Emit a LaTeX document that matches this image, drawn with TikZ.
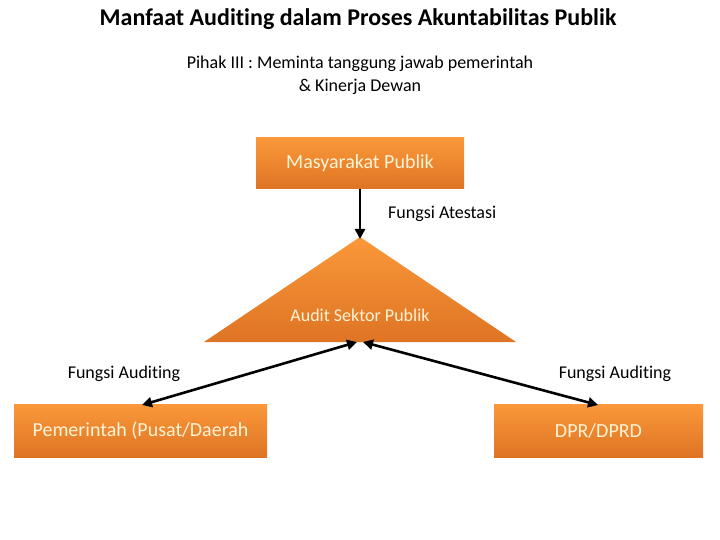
\documentclass[tikz,border=0pt]{standalone}
\usepackage{fontspec}
\setmainfont[Ligatures=NoCommon]{Carlito}
\usetikzlibrary{arrows.meta}
\definecolor{otop}{RGB}{250,152,58}
\definecolor{obot}{RGB}{222,116,36}
\definecolor{ctext}{RGB}{255,244,214}
\tikzset{
  obox/.style={rectangle, top color=otop, bottom color=obot, draw=none, text=ctext, inner sep=0pt, font=\fontsize{20}{24}\selectfont},
  lbl/.style={font=\fontsize{18}{22}\selectfont, text=black, inner sep=0pt},
  conn/.style={line width=2.6pt, -{Triangle[length=10pt,width=10pt]}},
  bconn/.style={line width=2.6pt, {Triangle[length=10pt,width=10pt]}-{Triangle[length=10pt,width=10pt]}}
}
\begin{document}
\begin{tikzpicture}[x=1pt,y=-1pt]
\useasboundingbox (0,0) rectangle (720,540);
\node[font=\bfseries\fontsize{24}{28}\selectfont, inner sep=0pt] (title) at (358,19) {Manfaat Auditing dalam Proses Akuntabilitas Publik};
\node[lbl, align=center, font=\fontsize{18}{23}\selectfont] (sub) at (360,75) {Pihak III : Meminta tanggung jawab pemerintah\\ \& Kinerja Dewan};
\node[obox, minimum width=208pt, minimum height=51pt] (mas) at (360,163.5) {Masyarakat Publik};
\shade[top color=otop, bottom color=obot] (360,237) -- (516,342) -- (204,342) -- cycle;
\coordinate (apex) at (360,239);
\coordinate (bl) at (357,342);
\coordinate (br) at (363,342);
\node[lbl, text=ctext] (asp) at (360,315) {Audit Sektor Publik};
\node[obox, minimum width=253pt, minimum height=53pt] (pem) at (140.5,430.5) {Pemerintah (Pusat/Daerah};
\node[obox, minimum width=209pt, minimum height=53pt] (dpr) at (598.5,430.5) {DPR/DPRD};
\node[lbl, anchor=west] (fa) at (388,214) {Fungsi Atestasi};
\node[lbl] (fl) at (124,374) {Fungsi Auditing};
\node[lbl] (fr) at (615,374) {Fungsi Auditing};
\draw[conn] (mas.south) -- (apex);
\coordinate (pl) at (142,405);
\coordinate (pr) at (598,405);
\draw[bconn] (pl) -- (bl);
\draw[bconn] (br) -- (pr);
\end{tikzpicture}
\end{document}
